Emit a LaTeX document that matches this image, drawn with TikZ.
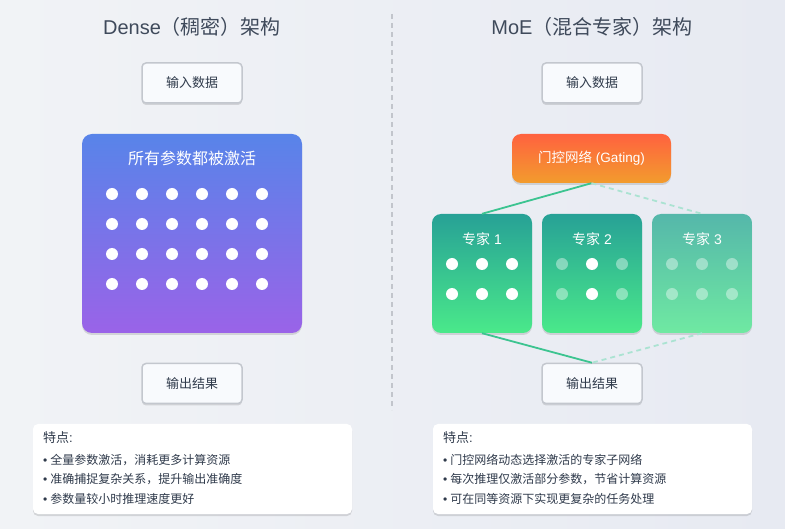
\documentclass[tikz,border=0pt]{standalone}
\usepackage{fontspec}
\setmainfont{Noto Sans CJK SC}
\newfontfamily\lat{Liberation Sans}
\usetikzlibrary{shadows,calc}
\definecolor{bgL}{HTML}{F1F3F6}
\definecolor{bgR}{HTML}{E7EAF2}
\definecolor{titlec}{HTML}{3F4A5B}
\definecolor{textc}{HTML}{2F3A4B}
\definecolor{boxfill}{HTML}{F8FAFD}
\definecolor{boxline}{HTML}{C3C7CE}
\definecolor{denseT}{HTML}{5884E9}
\definecolor{denseB}{HTML}{9A63E8}
\definecolor{gateT}{HTML}{FF623F}
\definecolor{gateB}{HTML}{F29C2D}
\definecolor{expT}{HTML}{27A196}
\definecolor{expB}{HTML}{4AE98A}
\definecolor{expfT}{HTML}{55B7AA}
\definecolor{expfB}{HTML}{6FE9A2}
\definecolor{linec}{HTML}{3CC490}
\definecolor{dashc}{HTML}{ABE3D2}
\definecolor{divc}{HTML}{C2C5CC}
\newcommand\bul{{\lat •}\hspace{3pt}}
\tikzset{
  softshadow/.style={drop shadow={shadow xshift=0pt,shadow yshift=-2pt,opacity=0.12,fill=black}},
  iobox/.style={draw=boxline,line width=1.5pt,fill=boxfill,rounded corners=4pt,minimum width=100pt,minimum height=40pt,inner sep=0pt,font=\fontsize{13}{15}\selectfont,text=textc,softshadow},
  titletext/.style={font=\fontsize{20}{24}\selectfont,text=titlec,inner sep=0pt},
  densebox/.style={rounded corners=10pt,top color=denseT,bottom color=denseB,minimum width=220pt,minimum height=199pt,inner sep=0pt,softshadow},
  gatebox/.style={rounded corners=9pt,top color=gateT,bottom color=gateB,minimum width=159pt,minimum height=49pt,inner sep=0pt,text=white,font=\fontsize{13.5}{16}\selectfont,softshadow},
  expbox/.style={rounded corners=9pt,top color=expT,bottom color=expB,minimum width=100pt,minimum height=119pt,inner sep=0pt,softshadow},
  expfbox/.style={rounded corners=9pt,top color=expfT,bottom color=expfB,minimum width=100pt,minimum height=119pt,inner sep=0pt,softshadow},
  whitetext/.style={text=white,inner sep=0pt},
  dot/.style={circle,fill=white,minimum size=12pt,inner sep=0pt},
  fdot/.style={circle,fill=white,fill opacity=0.4,minimum size=12pt,inner sep=0pt},
  featbox/.style={fill=white,rounded corners=5pt,minimum width=319pt,minimum height=90pt,inner sep=0pt,softshadow},
  feattext/.style={anchor=west,inner sep=0pt,text=textc,font=\fontsize{12}{14}\selectfont},
  conn/.style={draw=linec,line width=1.8pt},
  dconn/.style={draw=dashc,line width=1.8pt,dash pattern=on 5pt off 4pt},
}
\begin{document}
\begin{tikzpicture}[x=1pt,y=-1pt]
\shade[left color=bgL,right color=bgR] (0,0) rectangle (785,529);
\path[use as bounding box] (0,0) rectangle (785,529);
% divider
\draw[divc,line width=1.2pt,dash pattern=on 5pt off 4pt] (392,14) -- (392,410);
% titles
\node[titletext] (t1) at (192,27) {{\lat Dense}（稠密）架构};
\node[titletext] (t2) at (592,27) {{\lat MoE}（混合专家）架构};
% left side
\node[iobox] (in1) at (192,83) {输入数据};
\node[densebox] (dense) at (192,233.5) {};
\node[whitetext,font=\fontsize{16}{19}\selectfont] (dtitle) at (192,158) {所有参数都被激活};
\foreach \r in {0,1,2,3}{
  \foreach \c in {0,...,5}{
    \node[dot] (d\r\c) at (112+30*\c,194+30*\r) {};
  }
}
\node[iobox] (out1) at (192,383.5) {输出结果};
% right side
\node[iobox] (in2) at (592,83) {输入数据};
\node[gatebox] (gate) at (591.5,158.5) {门控网络{\lat\ (Gating)}};
\node[expbox] (e1) at (482,273.5) {};
\node[expbox] (e2) at (592,273.5) {};
\node[expfbox] (e3) at (702,273.5) {};
\node[iobox] (out2) at (592,383.5) {输出结果};
% connectors
\draw[conn] (gate.south) -- (e1.north);
\draw[dconn] (gate.south) -- (e3.north);
\draw[conn] (e1.south) -- (out2.north);
\draw[dconn] (e3.south) -- (out2.north);
% expert labels and dots
\foreach \i/\x in {1/482,2/592,3/702}{
  \node[whitetext,font=\fontsize{14}{17}\selectfont] (et\i) at (\x,239) {专家{\lat\ \i}};
}
\foreach \r in {0,1}{
  \foreach \c in {0,1,2}{
    \node[dot] (a\r\c) at (452+30*\c,264+30*\r) {};
    \node[fdot] (c\r\c) at (672+30*\c,264+30*\r) {};
  }
  \node[fdot] (b\r0) at (562,264+30*\r) {};
  \node[dot] (b\r1) at (592,264+30*\r) {};
  \node[fdot] (b\r2) at (622,264+30*\r) {};
}
% feature boxes
\node[featbox] (f1) at (192.5,469) {};
\node[feattext,font=\fontsize{13}{15}\selectfont] (f1h) at (43,438) {特点{\lat :}};
\node[feattext] (f1a) at (43,460) {\bul 全量参数激活，消耗更多计算资源};
\node[feattext] (f1b) at (43,479.5) {\bul 准确捕捉复杂关系，提升输出准确度};
\node[feattext] (f1c) at (43,499) {\bul 参数量较小时推理速度更好};
\node[featbox] (f2) at (592.5,469) {};
\node[feattext,font=\fontsize{13}{15}\selectfont] (f2h) at (443,438) {特点{\lat :}};
\node[feattext] (f2a) at (443,460) {\bul 门控网络动态选择激活的专家子网络};
\node[feattext] (f2b) at (443,479.5) {\bul 每次推理仅激活部分参数，节省计算资源};
\node[feattext] (f2c) at (443,499) {\bul 可在同等资源下实现更复杂的任务处理};
\end{tikzpicture}
\end{document}
